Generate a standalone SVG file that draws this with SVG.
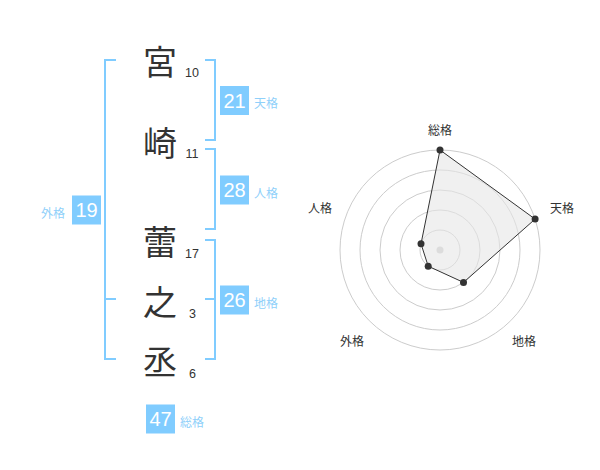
<svg xmlns="http://www.w3.org/2000/svg" width="600" height="470" viewBox="0 0 600 470">
<style>
.ch{font-family:"Noto Sans CJK JP","Noto Sans CJK SC",sans-serif;font-size:34px;fill:#333;text-anchor:middle}
.num{font-family:"Liberation Sans",Arial,sans-serif;font-size:12.5px;fill:#333;text-anchor:middle}
.br{fill:none;stroke:#80ccff;stroke-width:2}
.box{fill:#80ccff}
.bt{font-family:"Liberation Sans",Arial,sans-serif;font-size:20px;fill:#fff;text-anchor:middle}
.lb{font-family:"Noto Sans CJK JP","Noto Sans CJK SC",sans-serif;font-size:12px;fill:#8fd0fa}
.rl{font-family:"Noto Sans CJK JP","Noto Sans CJK SC",sans-serif;font-size:12px;fill:#333;text-anchor:middle}
.ring{fill:none;stroke:#cccccc;stroke-width:1}
.pt{fill:#333}
</style>
<rect width="600" height="470" fill="#fff"/>
<g id="name">
<text class="ch" x="160" y="74.5">宮</text>
<text class="ch" x="160" y="156">崎</text>
<text class="ch" x="160" y="254.5">蕾</text>
<text class="ch" x="160" y="314.5">之</text>
<text class="ch" x="160" y="374.5">丞</text>
<text class="num" x="192" y="77">10</text>
<text class="num" x="192" y="157.5">11</text>
<text class="num" x="192" y="257.5">17</text>
<text class="num" x="192.5" y="317.5">3</text>
<text class="num" x="192.5" y="377.5">6</text>
</g>
<g id="connectors">
<path class="br" d="M116,60 H105 V359 H116 M105,299 H116"/>
<path class="br" d="M205,60 H215 V140 H205"/>
<path class="br" d="M205,149 H215 V229 H205"/>
<path class="br" d="M205,240 H215 V359 H205 M205,299 H215"/>
</g>
<g id="tenkaku">
<rect class="box" x="220" y="86" width="29" height="29"/>
<text class="bt" x="234.5" y="107.5">21</text>
<text class="lb" x="254" y="108">天格</text>
</g>
<g id="jinkaku">
<rect class="box" x="220" y="175.5" width="29" height="29"/>
<text class="bt" x="234.5" y="197">28</text>
<text class="lb" x="254" y="198">人格</text>
</g>
<g id="chikaku">
<rect class="box" x="220" y="285.5" width="29" height="29"/>
<text class="bt" x="234.5" y="307">26</text>
<text class="lb" x="254" y="308">地格</text>
</g>
<g id="gaikaku">
<rect class="box" x="72" y="195.5" width="29" height="29"/>
<text class="bt" x="86.5" y="217">19</text>
<text class="lb" x="41" y="218">外格</text>
</g>
<g id="soukaku">
<rect class="box" x="146" y="404.5" width="29" height="29"/>
<text class="bt" x="160.5" y="426">47</text>
<text class="lb" x="180" y="427">総格</text>
</g>
<g id="radar">
<circle class="ring" cx="440" cy="250" r="20"/>
<circle class="ring" cx="440" cy="250" r="40"/>
<circle class="ring" cx="440" cy="250" r="60"/>
<circle class="ring" cx="440" cy="250" r="80"/>
<circle class="ring" cx="440" cy="250" r="100"/>
<circle cx="440" cy="250" r="3.5" fill="#cccccc"/>
<polygon points="440,150 535.1,219.1 463.5,282.4 428.2,266.2 421,243.8" fill="#e6e6e6" fill-opacity="0.6" stroke="#333" stroke-width="1"/>
<circle class="pt" cx="440" cy="150" r="3.5"/>
<circle class="pt" cx="535.1" cy="219.1" r="3.5"/>
<circle class="pt" cx="463.5" cy="282.4" r="3.5"/>
<circle class="pt" cx="428.2" cy="266.2" r="3.5"/>
<circle class="pt" cx="421" cy="243.8" r="3.5"/>
<text class="rl" x="440" y="135">総格</text>
<text class="rl" x="562" y="213">天格</text>
<text class="rl" x="524" y="346">地格</text>
<text class="rl" x="352" y="346">外格</text>
<text class="rl" x="320" y="213">人格</text>
</g>
</svg>
